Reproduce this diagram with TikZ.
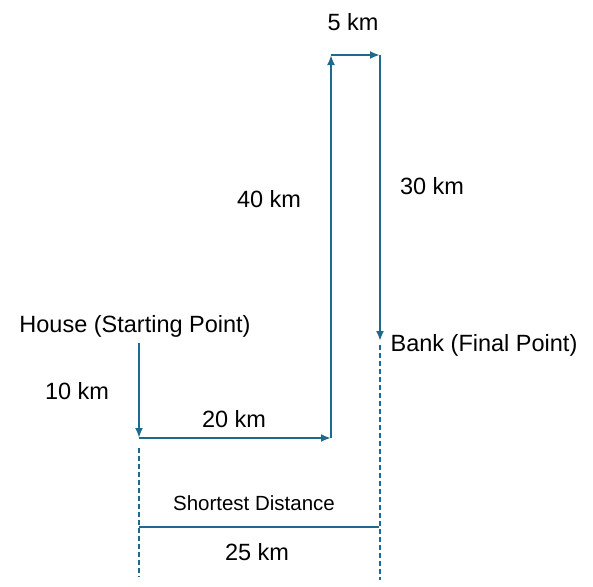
\documentclass[tikz,border=0pt]{standalone}
\usepackage{fontspec}
\setmainfont{Liberation Sans}
\usetikzlibrary{arrows.meta}
\definecolor{pathblue}{RGB}{31,105,143}
\begin{document}
\begin{tikzpicture}[x=1pt,y=-1pt,
  route/.style={draw=pathblue,line width=2pt,-{Latex[length=10pt,width=8pt]}},
  guide/.style={draw=pathblue,line width=1.8pt,dash pattern=on 5pt off 3pt},
  measure/.style={draw=pathblue,line width=1.8pt},
  lbl/.style={inner sep=0pt,font=\fontsize{23.5}{28}\selectfont},
  small/.style={inner sep=0pt,font=\fontsize{20.5}{24}\selectfont}]
\useasboundingbox (0,0) rectangle (593,586);
% route corners
\coordinate (house) at (139,343);
\coordinate (c1) at (139,438);
\coordinate (c2) at (331,438);
\coordinate (c3) at (331,55);
\coordinate (c4) at (380,55);
\coordinate (bank) at (380,341);
% guides
\coordinate (gl1) at (139,448);
\coordinate (gl2) at (139,577);
\coordinate (gr1) at (380,345);
\coordinate (gr2) at (380,580);
\coordinate (m1) at (139,527);
\coordinate (m2) at (379,527);
% route
\draw[route] (house) -- (c1);
\draw[route] (c1) -- (c2);
\draw[route] (c2) -- (c3);
\draw[route] (c3) -- (c4);
\draw[route] (c4) -- (bank);
% guides and measure
\draw[guide] (gl1) -- (gl2);
\draw[guide] (gr1) -- (gr2);
\draw[measure] (m1) -- (m2);
% labels
\node[lbl] (t5) at (353,22) {5 km};
\node[lbl] (t40) at (269,199) {40 km};
\node[lbl] (t30) at (432,186) {30 km};
\node[lbl] (thouse) at (135,326) {House (Starting Point)};
\node[lbl] (tbank) at (484,345) {Bank (Final Point)};
\node[lbl] (t10) at (77,391) {10 km};
\node[lbl] (t20) at (234,419) {20 km};
\node[small] (tshort) at (254,503) {Shortest Distance};
\node[lbl] (t25) at (257,552) {25 km};
\end{tikzpicture}
\end{document}
